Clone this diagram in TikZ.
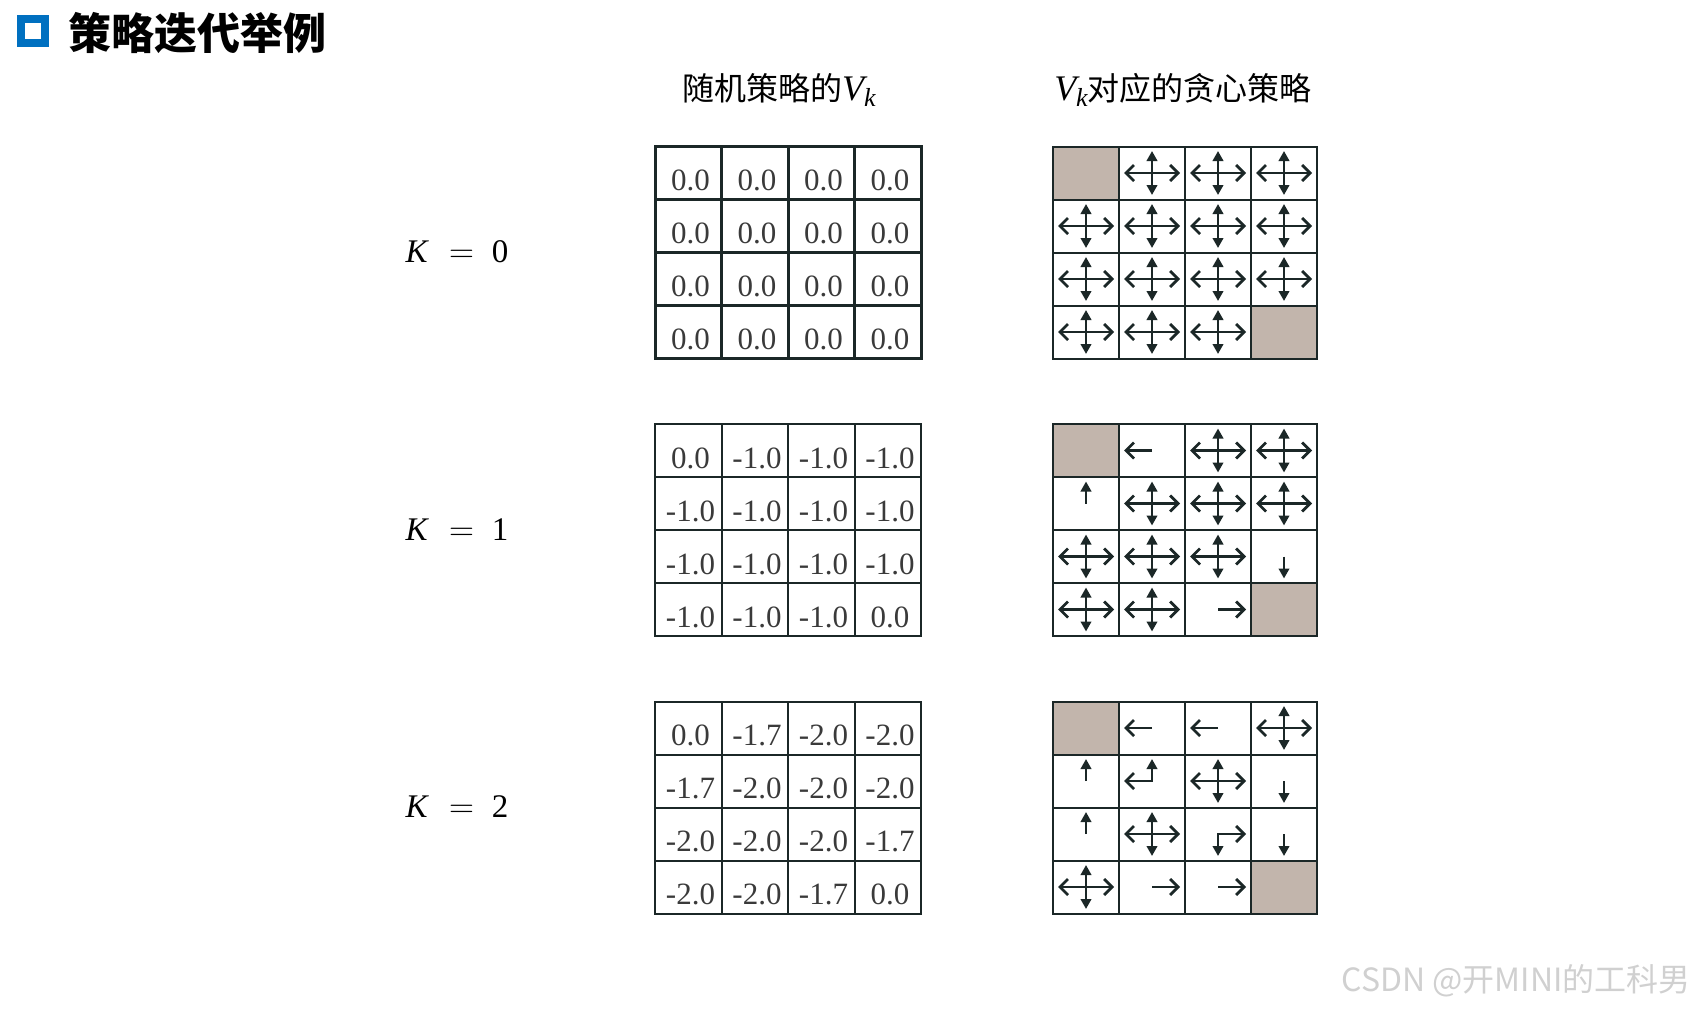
\documentclass[tikz,border=0pt]{standalone}
\usepackage{fontspec}
\setmainfont{Liberation Serif}
\newfontfamily\cjk{Noto Sans CJK SC}
\usetikzlibrary{arrows.meta}
\definecolor{gridcol}{HTML}{1B2727}
\definecolor{valcol}{HTML}{3A3A3A}
\definecolor{termcol}{HTML}{C2B5AC}
\definecolor{titleblue}{HTML}{0070C0}
\definecolor{markcol}{HTML}{D0D0D0}
\newcommand{\vk}{{\rmfamily\fontsize{18pt}{18pt}\selectfont\itshape V\raisebox{-3pt}{\fontsize{13pt}{13pt}\selectfont k}}}
\tikzstyle{gridline} = [draw=gridcol, line width=1pt, line cap=rect]
\tikzstyle{thickgrid} = [gridline, line width=1.5pt]
\tikzstyle{val} = [anchor=base, inner sep=0pt, font=\fontsize{15.5pt}{16pt}\selectfont, text=valcol]
\tikzstyle{klabel} = [inner sep=0pt, font=\fontsize{16.5pt}{18pt}\selectfont]
\tikzstyle{head} = [anchor=base, inner sep=0pt, font=\cjk\fontsize{16pt}{18pt}\selectfont]
\tikzstyle{harrow} = [-{Straight Barb[length=4pt,width=8pt,line width=1.4pt]}, line width=1.3pt, draw=gridcol]
\tikzstyle{varrow} = [-{Triangle[length=5pt,width=5.2pt]}, line width=1.3pt, draw=gridcol]
\tikzset{
  pics/goW/.style={code={\draw[harrow] (0,0) -- (-28,0);}},
  pics/goE/.style={code={\draw[harrow] (0,0) -- (28,0);}},
  pics/goN/.style={code={\draw[varrow] (0,0) -- (0,-22);}},
  pics/goS/.style={code={\draw[varrow] (0,0) -- (0,22);}},
  pics/goAll/.style={code={\pic{goW}; \pic{goE}; \pic{goN}; \pic{goS};}},
  pics/goWN/.style={code={\draw[{Straight Barb[length=4pt,width=8pt,line width=1.4pt]}-{Triangle[length=5pt,width=5.2pt]}, line width=1.3pt, draw=gridcol] (-28,0) -- (0,0) -- (0,-22);}},
  pics/goSE/.style={code={\draw[{Triangle[length=5pt,width=5.2pt]}-{Straight Barb[length=4pt,width=8pt,line width=1.4pt]}, line width=1.3pt, draw=gridcol] (0,22) -- (0,0) -- (28,0);}},
  pics/term/.style={code={\fill[termcol] (-33,-26.5) rectangle (33,26.5);}}
}

\begin{document}
\begin{tikzpicture}[x=0.5pt, y=-0.5pt]
  \useasboundingbox (0,0) rectangle (1706,1012);

  % title
  \draw[titleblue, line width=4pt] (20.5,18.5) rectangle (44.5,42.5);
  \node[anchor=base west, inner sep=0pt, font=\cjk\bfseries\fontsize{21.5pt}{24pt}\selectfont] (title) at (68,49) {策略迭代举例};

  % column heads
  \node[head] (headV) at (779,100) {随机策略的\vk};
  \node[head] (headPi) at (1183,100) {\vk 对应的贪心策略};

  % K labels
  \node[klabel] (k0) at (457,252) {\textit{K}\hspace{10pt}$=$\hspace{9pt}0};
  \node[klabel] (k1) at (457,530) {\textit{K}\hspace{10pt}$=$\hspace{9pt}1};
  \node[klabel] (k2) at (457,807) {\textit{K}\hspace{10pt}$=$\hspace{9pt}2};

  % K = 0
  \foreach \v [count=\n from 0] in {0.0,0.0,0.0,0.0, 0.0,0.0,0.0,0.0, 0.0,0.0,0.0,0.0, 0.0,0.0,0.0,0.0} {
    \pgfmathtruncatemacro\col{mod(\n,4)}
    \pgfmathtruncatemacro\row{div(\n,4)}
    \node[val] (a\n) at ({655+66.5*\col+35.5},{146.5+53*(\row+1)-9}) {\v};
  }
  \foreach \p [count=\n from 0] in {term,goAll,goAll,goAll, goAll,goAll,goAll,goAll, goAll,goAll,goAll,goAll, goAll,goAll,goAll,term} {
    \pgfmathtruncatemacro\col{mod(\n,4)}
    \pgfmathtruncatemacro\row{div(\n,4)}
    \pic at ({1053+66*\col+33},{146.5+53*\row+26.5}) {\p};
  }
  \foreach \i in {0,...,4} {
    \draw[thickgrid] ({655+66.5*\i},146.5) -- ++(0,212);
    \draw[thickgrid] (655,{146.5+53*\i}) -- ++(266,0);
    \draw[gridline] ({1053+66*\i},146.5) -- ++(0,212);
    \draw[gridline] (1053,{146.5+53*\i}) -- ++(264,0);
  }

  % K = 1
  \foreach \v [count=\n from 0] in {0.0,-1.0,-1.0,-1.0, -1.0,-1.0,-1.0,-1.0, -1.0,-1.0,-1.0,-1.0, -1.0,-1.0,-1.0,0.0} {
    \pgfmathtruncatemacro\col{mod(\n,4)}
    \pgfmathtruncatemacro\row{div(\n,4)}
    \node[val] (b\n) at ({655+66.5*\col+35.5},{424+53*(\row+1)-9}) {\v};
  }
  \foreach \p [count=\n from 0] in {term,goW,goAll,goAll, goN,goAll,goAll,goAll, goAll,goAll,goAll,goS, goAll,goAll,goE,term} {
    \pgfmathtruncatemacro\col{mod(\n,4)}
    \pgfmathtruncatemacro\row{div(\n,4)}
    \pic at ({1053+66*\col+33},{424+53*\row+26.5}) {\p};
  }
  \foreach \i in {0,...,4} {
    \draw[gridline] ({655+66.5*\i},424) -- ++(0,212);
    \draw[gridline] (655,{424+53*\i}) -- ++(266,0);
    \draw[gridline] ({1053+66*\i},424) -- ++(0,212);
    \draw[gridline] (1053,{424+53*\i}) -- ++(264,0);
  }

  % K = 2
  \foreach \v [count=\n from 0] in {0.0,-1.7,-2.0,-2.0, -1.7,-2.0,-2.0,-2.0, -2.0,-2.0,-2.0,-1.7, -2.0,-2.0,-1.7,0.0} {
    \pgfmathtruncatemacro\col{mod(\n,4)}
    \pgfmathtruncatemacro\row{div(\n,4)}
    \node[val] (c\n) at ({655+66.5*\col+35.5},{701.5+53*(\row+1)-9}) {\v};
  }
  \foreach \p [count=\n from 0] in {term,goW,goW,goAll, goN,goWN,goAll,goS, goN,goAll,goSE,goS, goAll,goE,goE,term} {
    \pgfmathtruncatemacro\col{mod(\n,4)}
    \pgfmathtruncatemacro\row{div(\n,4)}
    \pic at ({1053+66*\col+33},{701.5+53*\row+26.5}) {\p};
  }
  \foreach \i in {0,...,4} {
    \draw[gridline] ({655+66.5*\i},701.5) -- ++(0,212);
    \draw[gridline] (655,{701.5+53*\i}) -- ++(266,0);
    \draw[gridline] ({1053+66*\i},701.5) -- ++(0,212);
    \draw[gridline] (1053,{701.5+53*\i}) -- ++(264,0);
  }

  % watermark
  \node[text=markcol, inner sep=0pt, font=\cjk\fontsize{16pt}{18pt}\selectfont] (csdn) at (1516,981) {CSDN @开MINI的工科男};
\end{tikzpicture}
\end{document}
